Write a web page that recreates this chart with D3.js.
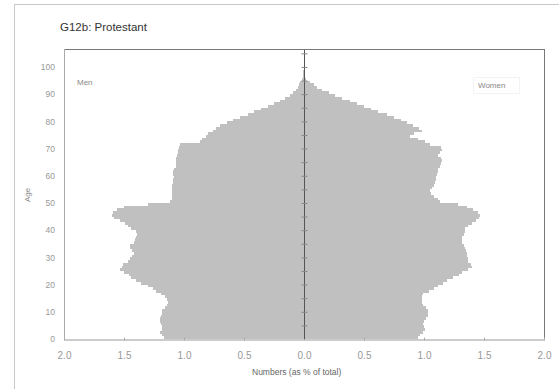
<!DOCTYPE html>
<html lang="en">
<head>
<meta charset="UTF-8">
<title>G12b: Protestant</title>
<script src="https://cdn.jsdelivr.net/npm/d3@7"></script>
<style>
  body { margin: 0; background: #fff; }
  text { font-family: "Liberation Sans", Arial, sans-serif; }
</style>
</head>
<body>
<script>
// single year of age, 0..99
var ages = d3.range(0, 100);
// % of total population, men (drawn to the left)
var men = [1.17, 1.18, 1.20, 1.18, 1.18, 1.19, 1.20, 1.20, 1.19, 1.18,
           1.18, 1.16, 1.14, 1.13, 1.14, 1.16, 1.19, 1.23, 1.26, 1.30,
           1.36, 1.40, 1.44, 1.46, 1.50, 1.53, 1.52, 1.51, 1.47, 1.45,
           1.43, 1.42, 1.43, 1.45, 1.45, 1.42, 1.41, 1.40, 1.39, 1.40,
           1.44, 1.47, 1.49, 1.53, 1.58, 1.60, 1.59, 1.56, 1.50, 1.30,
           1.12, 1.10, 1.10, 1.10, 1.10, 1.10, 1.10, 1.09, 1.09, 1.08,
           1.09, 1.09, 1.08, 1.07, 1.07, 1.07, 1.07, 1.06, 1.05, 1.05,
           1.04, 1.03, 0.87, 0.85, 0.82, 0.80, 0.76, 0.73, 0.70, 0.64,
           0.59, 0.53, 0.47, 0.42, 0.36, 0.30, 0.25, 0.20, 0.16, 0.12,
           0.09, 0.07, 0.05, 0.04, 0.03, 0.02, 0.01, 0.01, 0.005, 0];
// women (drawn to the right)
var women = [0.95, 0.97, 0.99, 1.01, 1.00, 0.99, 1.00, 1.02, 1.03, 1.03,
             1.03, 1.02, 0.99, 0.98, 0.98, 0.98, 0.99, 1.04, 1.08, 1.12,
             1.16, 1.19, 1.24, 1.29, 1.32, 1.37, 1.40, 1.39, 1.37, 1.37,
             1.36, 1.36, 1.35, 1.34, 1.33, 1.32, 1.32, 1.32, 1.33, 1.34,
             1.34, 1.37, 1.40, 1.43, 1.46, 1.47, 1.45, 1.41, 1.36, 1.28,
             1.13, 1.12, 1.08, 1.06, 1.05, 1.07, 1.08, 1.09, 1.10, 1.10,
             1.11, 1.12, 1.12, 1.13, 1.14, 1.15, 1.14, 1.12, 1.13, 1.15,
             1.14, 1.05, 1.01, 0.95, 0.88, 0.92, 0.98, 0.96, 0.91, 0.86,
             0.81, 0.75, 0.69, 0.62, 0.56, 0.50, 0.44, 0.38, 0.32, 0.26,
             0.21, 0.15, 0.11, 0.08, 0.05, 0.02, 0.01, 0.005, 0, 0];
var xTicks = [-2, -1.5, -1, -0.5, 0, 0.5, 1, 1.5, 2];
var yTicks = [0, 10, 20, 30, 40, 50, 60, 70, 80, 90, 100];

var W = 559, H = 389;
var svg = d3.select("body").append("svg").attr("width", W).attr("height", H);

var x = d3.scaleLinear().domain([-2, 2]).range([64, 544]);
var y = d3.scaleLinear().domain([0, 106.6]).range([339, 49]);

// outer frame
svg.append("rect").attr("x", 14.5).attr("y", 4.5).attr("width", 560).attr("height", 400)
    .attr("fill", "none").attr("stroke", "#c8c8c8");

svg.append("text").attr("x", 60).attr("y", 31).attr("font-size", "11.5px")
    .attr("fill", "#333").text("G12b: Protestant");

// bars
var g = svg.append("g").attr("shape-rendering", "crispEdges");
g.selectAll("rect.men").data(ages).enter().append("rect").attr("class", "men")
    .attr("x", function (d) { return x(-men[d]); })
    .attr("width", function (d) { return x(0) - x(-men[d]); })
    .attr("y", function (d) { return y(d + 1); })
    .attr("height", function (d) { return y(d) - y(d + 1); })
    .attr("fill", "#c0c0c0");
g.selectAll("rect.women").data(ages).enter().append("rect").attr("class", "women")
    .attr("x", x(0))
    .attr("width", function (d) { return x(women[d]) - x(0); })
    .attr("y", function (d) { return y(d + 1); })
    .attr("height", function (d) { return y(d) - y(d + 1); })
    .attr("fill", "#c0c0c0");

// plot border: top and right darker, left and bottom lighter
svg.append("line").attr("x1", 64).attr("x2", 544.5).attr("y1", 49.5).attr("y2", 49.5).attr("stroke", "#777");
svg.append("line").attr("x1", 544.5).attr("x2", 544.5).attr("y1", 49).attr("y2", 339).attr("stroke", "#777");
svg.append("line").attr("x1", 64.5).attr("x2", 64.5).attr("y1", 49).attr("y2", 339).attr("stroke", "#aaa");

// bottom axis
var xAxis = d3.axisBottom(x).tickValues(xTicks).tickSize(0).tickPadding(12)
    .tickFormat(function (d) { return d3.format(".1f")(Math.abs(d)); });
var gx = svg.append("g").attr("transform", "translate(0,339.5)").call(xAxis);
gx.select(".domain").attr("stroke", "#999");
gx.selectAll("text").attr("font-size", "10px").attr("fill", "#999")
    .attr("font-family", "'Liberation Sans', Arial, sans-serif");
gx.selectAll(".tick").append("line").attr("y1", -2).attr("y2", 1).attr("stroke", "#aaa");

// left labels
var yAxis = d3.axisLeft(y).tickValues(yTicks).tickSize(0).tickPadding(9);
var gy = svg.append("g").attr("transform", "translate(64,0)").call(yAxis);
gy.select(".domain").remove();
gy.selectAll("text").attr("font-size", "8.5px").attr("fill", "#999")
    .attr("font-family", "'Liberation Sans', Arial, sans-serif");

// central axis with small crosses every 5 years
svg.append("line").attr("x1", x(0) + 0.5).attr("x2", x(0) + 0.5).attr("y1", 50).attr("y2", 339)
    .attr("stroke", "#555");
svg.selectAll("line.ct").data(d3.range(5, 106, 5)).enter().append("line").attr("class", "ct")
    .attr("x1", x(0) - 2.5).attr("x2", x(0) + 3.5)
    .attr("y1", function (d) { return y(d) + 0.5; })
    .attr("y2", function (d) { return y(d) + 0.5; })
    .attr("stroke", "#888");

// labels
svg.append("text").attr("x", 77).attr("y", 85).attr("font-size", "8px").attr("fill", "#888").text("Men");
svg.append("rect").attr("x", 473.5).attr("y", 77.5).attr("width", 46).attr("height", 16)
    .attr("fill", "none").attr("stroke", "#e6e6e6").attr("stroke-dasharray", "1,1");
svg.append("text").attr("x", 478).attr("y", 88).attr("font-size", "8px").attr("fill", "#888").text("Women");
svg.append("text").attr("transform", "translate(30,195) rotate(-90)").attr("text-anchor", "middle")
    .attr("font-size", "8px").attr("fill", "#888").text("Age");
svg.append("text").attr("x", 252).attr("y", 375).attr("font-size", "8.5px").attr("fill", "#666")
    .text("Numbers (as % of total)");
</script>
</body>
</html>
